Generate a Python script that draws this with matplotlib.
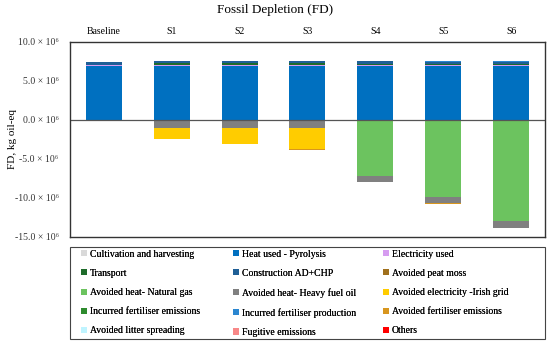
import numpy as np
import matplotlib
matplotlib.use("Agg")
import matplotlib.pyplot as plt
from matplotlib.patches import Patch, Rectangle

plt.rcParams["font.family"] = ["Liberation Serif", "DejaVu Serif"]

categories = ["Baseline", "S1", "S2", "S3", "S4", "S5", "S6"]

# values in 10^6 kg oil-eq, one list per legend entry (stacking order)
cultivation = [0.05, 0.05, 0.05, 0.05, 0.05, 0.05, 0.05]
heat_pyrolysis = [6.85, 6.85, 6.85, 6.85, 6.85, 6.85, 6.85]
electricity = [0.2, 0.2, 0.2, 0.2, 0.2, 0.2, 0.2]
transport = [0.0, 0.15, 0.15, 0.15, 0.12, 0.1, 0.1]
construction = [0.35, 0.28, 0.28, 0.28, 0.28, 0.28, 0.28]
peat_moss = [0.0, 0.0, 0.0, 0.0, 0.0, 0.0, 0.0]
heat_natural_gas = [0.0, 0.0, 0.0, 0.0, -7.14, -9.9, -13.0]
heat_fuel_oil = [0.0, -1.0, -1.0, -1.0, -0.77, -0.77, -0.85]
elec_irish_grid = [0.0, -1.4, -2.1, -2.76, 0.0, 0.0, 0.0]
fert_emissions = [0.0, 0.0, 0.0, 0.0, 0.0, 0.0, 0.0]
fert_production = [0.0, 0.03, 0.03, 0.03, 0.03, 0.03, 0.03]
avoided_fert = [0.0, -0.03, -0.03, -0.03, -0.05, -0.05, -0.05]
litter_spreading = [0.0, 0.0, 0.0, 0.0, 0.0, 0.0, 0.0]
fugitive = [0.0, 0.0, 0.0, 0.0, 0.0, 0.0, 0.0]
others = [0.0, 0.0, 0.0, 0.0, 0.0, 0.0, 0.0]

y_ticks = [10, 5, 0, -5, -10, -15]

series = [
    ("Cultivation and harvesting", cultivation, "#d9d9d9"),
    ("Heat used - Pyrolysis", heat_pyrolysis, "#0070c0"),
    ("Electricity used", electricity, "#d69cf0"),
    ("Transport", transport, "#1e6b2a"),
    ("Construction AD+CHP", construction, "#1f5f96"),
    ("Avoided peat moss", peat_moss, "#a0701c"),
    ("Avoided heat- Natural gas", heat_natural_gas, "#6cc35f"),
    ("Avoided heat- Heavy fuel oil", heat_fuel_oil, "#808080"),
    ("Avoided electricity -Irish grid", elec_irish_grid, "#ffcc00"),
    ("Incurred fertiliser emissions", fert_emissions, "#2e8b2e"),
    ("Incurred fertiliser production", fert_production, "#2a86d0"),
    ("Avoided fertiliser emissions", avoided_fert, "#d8961e"),
    ("Avoided litter spreading", litter_spreading, "#bff4ff"),
    ("Fugitive emissions", fugitive, "#f88888"),
    ("Others", others, "#ff0000"),
]

fig = plt.figure(figsize=(5.5, 3.41), dpi=100)
ax = fig.add_axes([0.127, 0.305, 0.864, 0.572])

x = np.arange(len(categories))
pos_bottom = np.zeros(len(categories))
neg_bottom = np.zeros(len(categories))
for name, vals, color in series:
    vals = np.array(vals)
    pos = np.where(vals > 0, vals, 0)
    neg = np.where(vals < 0, vals, 0)
    ax.bar(x, pos, 0.53, bottom=pos_bottom, color=color, linewidth=0)
    ax.bar(x, neg, 0.53, bottom=neg_bottom, color=color, linewidth=0)
    pos_bottom += pos
    neg_bottom += neg

ax.axhline(0, color="#555555", linewidth=0.9)
ax.set_xlim(-0.5, len(categories) - 0.5)
ax.set_ylim(-15, 10)
ax.set_yticks(y_ticks)
ax.set_yticklabels(["%.1f \u00d7 10\u2076" % v for v in y_ticks])
ax.tick_params(axis="y", labelsize=7, length=0, pad=8, labelcolor="#333333")
ax.set_ylabel("FD, kg oil-eq", fontsize=8)
ax.yaxis.set_label_coords(-0.112, 0.5)

ax.set_xticks(x)
ax.set_xticklabels(categories)
ax.xaxis.tick_top()
ax.tick_params(axis="x", labelsize=7, length=0, pad=4)

for spine in ax.spines.values():
    spine.set_color("#333333")
    spine.set_linewidth(1.0)

fig.text(0.5, 0.972, "Fossil Depletion (FD)", ha="center", va="center", fontsize=9.5)

# legend box spans the plot width
fig.patches.append(Rectangle((0.127, 0.006), 0.864, 0.27, transform=fig.transFigure,
                             fill=False, edgecolor="#444444", linewidth=0.8))

# three one-column legends so the columns sit where the original has them
handles = [Patch(facecolor=c, edgecolor="none", label=n) for n, v, c in series]
col_x = [0.148, 0.424, 0.697]
for col in range(3):
    col_handles = handles[col::3]
    leg = fig.legend(
        col_handles,
        [h.get_label() for h in col_handles],
        loc="upper left",
        bbox_to_anchor=(col_x[col], 0.268),
        fontsize=7,
        frameon=False,
        handlelength=0.6,
        handleheight=0.6,
        handletextpad=0.3,
        labelspacing=1.05,
        borderaxespad=0,
        borderpad=0,
    )
    fig.add_artist(leg)

fig.savefig("out.png", dpi=100)
